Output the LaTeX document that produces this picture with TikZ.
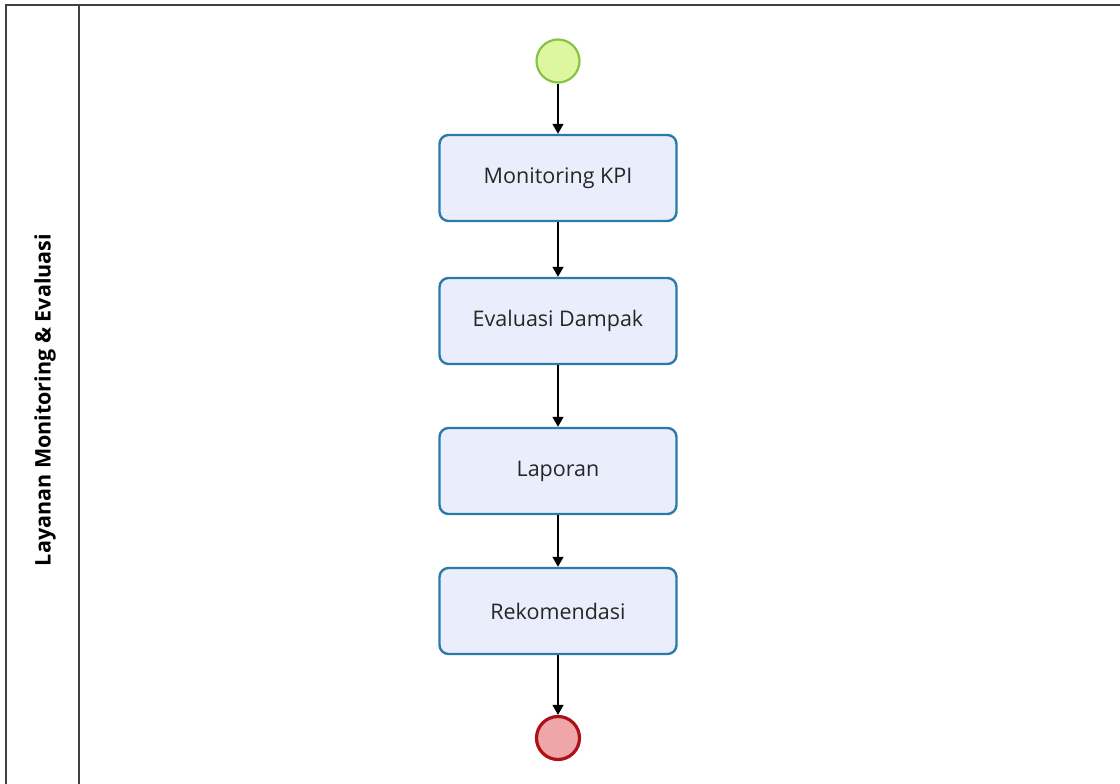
\documentclass[tikz,border=0pt]{standalone}
\usepackage{fontspec}
\setmainfont{Open Sans}
\usetikzlibrary{arrows.meta}

\definecolor{taskfill}{HTML}{EAEEFC}
\definecolor{taskline}{HTML}{2B7BAA}
\definecolor{startfill}{HTML}{DDF7A0}
\definecolor{startline}{HTML}{86C441}
\definecolor{endfill}{HTML}{EEA6A8}
\definecolor{endline}{HTML}{AE1016}

\tikzset{
  task/.style={draw=taskline, fill=taskfill, line width=2.4pt, rounded corners=9pt,
    minimum width=237pt, minimum height=86pt, inner sep=0pt,
    font=\fontsize{21.5}{24}\selectfont, text=black!85},
  startev/.style={circle, draw=startline, fill=startfill, line width=2.2pt,
    minimum size=43pt, inner sep=0pt},
  endev/.style={circle, draw=endline, fill=endfill, line width=3.2pt,
    minimum size=43pt, inner sep=0pt},
  flow/.style={line width=1.5pt, -{Triangle[width=11pt,length=10pt]}}
}

\begin{document}
\begin{tikzpicture}[x=1pt,y=-1pt]
  \useasboundingbox (0,0) rectangle (1120,784);
  % pool and lane
  \draw[line width=2pt, black!75] (6,784) -- (6,5) -- (1120,5);
  \draw[line width=2pt, black!75] (79,5) -- (79,784);
  \node[rotate=90, font=\bfseries\fontsize{21.5}{24}\selectfont] (lane) at (45,400) {Layanan Monitoring \& Evaluasi};
  % events and tasks
  \node[startev] (start) at (558,61) {};
  \node[task] (kpi) at (558,178) {Monitoring KPI};
  \node[task] (eval) at (558,321) {Evaluasi Dampak};
  \node[task] (lap) at (558,471) {Laporan};
  \node[task] (rek) at (558,611) {Rekomendasi};
  \node[endev] (end) at (558,738) {};
  % sequence flows
  \draw[flow] (start) -- (kpi);
  \draw[flow] (kpi) -- (eval);
  \draw[flow] (eval) -- (lap);
  \draw[flow] (lap) -- (rek);
  \draw[flow] (rek) -- (end);
\end{tikzpicture}
\end{document}
